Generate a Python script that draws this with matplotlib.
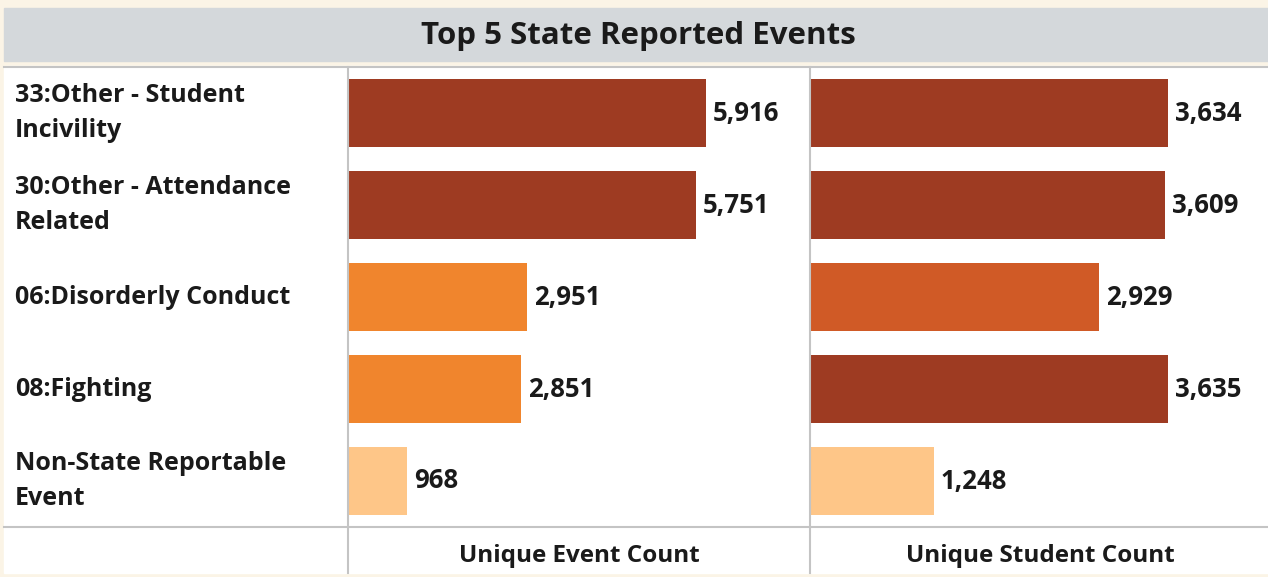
import matplotlib
matplotlib.use("Agg")
import matplotlib.pyplot as plt
from matplotlib.patches import Rectangle
from matplotlib.lines import Line2D

plt.rcParams['font.family'] = ['Open Sans', 'DejaVu Sans']

# ---- data ---- #
categories = ["33:Other - Student\nIncivility",
              "30:Other - Attendance\nRelated",
              "06:Disorderly Conduct",
              "08:Fighting",
              "Non-State Reportable\nEvent"]
event_counts = [5916, 5751, 2951, 2851, 968]
student_counts = [3634, 3609, 2929, 3635, 1248]
event_colors = ["#9e3b22", "#9e3b22", "#f0852d", "#f0852d", "#fec688"]
student_colors = ["#9e3b22", "#9e3b22", "#d05a26", "#9e3b22", "#fec688"]
col_labels = ["Unique Event Count", "Unique Student Count"]
title = "Top 5 State Reported Events"

W, H = 1268, 577
fig = plt.figure(figsize=(W / 100, H / 100), dpi=100, facecolor="#fbf4e6")


def fx(px):
    return px / W


def fy(py):
    # pixel from top -> figure fraction from bottom
    return 1 - py / H


def frect(x0, y0, x1, y1, color):
    fig.patches.append(Rectangle((fx(x0), fy(y1)), fx(x1 - x0), (y1 - y0) / H,
                                 transform=fig.transFigure, color=color, zorder=-10))


def fline(x0, y0, x1, y1, color="#c4c4c4", lw=1.5):
    fig.lines.append(Line2D([fx(x0), fx(x1)], [fy(y0), fy(y1)],
                            transform=fig.transFigure, color=color, lw=lw, zorder=5))


# title bar and table background
frect(4, 8, W, 61, "#d4d8db")
frect(4, 66, W, 573, "white")
fig.text(fx(638), fy(36), title, ha="center", va="center",
         fontsize=22.5, fontweight="bold", color="#1a1a1a")

# grid lines
fline(4, 66.5, W, 66.5)
fline(4, 527, W, 527)
fline(348, 67, 348, 573)
fline(810, 67, 810, 573)

top, bottom = 67, 527
row_h = (bottom - top) / len(categories)

# category labels
for i, cat in enumerate(categories):
    fig.text(fx(15), fy(top + row_h * (i + 0.5)), cat, ha="left", va="center",
             fontsize=18, fontweight="bold", color="#1a1a1a", linespacing=1.55)


def panel(x0, x1, values, colors, scale_px_max):
    ax = fig.add_axes([fx(x0 + 1), fy(bottom), fx(x1 - x0 - 1), (bottom - top) / H])
    ax.set_facecolor("none")
    ypos = list(range(len(values)))
    ax.barh(ypos, values, height=0.74, color=colors, edgecolor="none")
    # axis range so that the largest bar spans scale_px_max pixels
    width_px = x1 - x0 - 1
    ax.set_xlim(0, max(values) * width_px / scale_px_max)
    ax.set_ylim(len(values) - 0.5, -0.5)
    off = ax.get_xlim()[1] * 7 / width_px
    for y, v in zip(ypos, values):
        ax.text(v + off, y, f"{v:,}", ha="left", va="center",
                fontsize=18.5, fontweight="bold", color="#1a1a1a")
    ax.axis("off")
    return ax


panel(348, 810, event_counts, event_colors, 357)
panel(810, W, student_counts, student_colors, 357)

fig.text(fx(579), fy(556), col_labels[0], ha="center", va="center",
         fontsize=17.5, fontweight="bold", color="#1a1a1a")
fig.text(fx(1040), fy(556), col_labels[1], ha="center", va="center",
         fontsize=17.5, fontweight="bold", color="#1a1a1a")

fig.savefig("out.png", dpi=100, facecolor=fig.get_facecolor())
